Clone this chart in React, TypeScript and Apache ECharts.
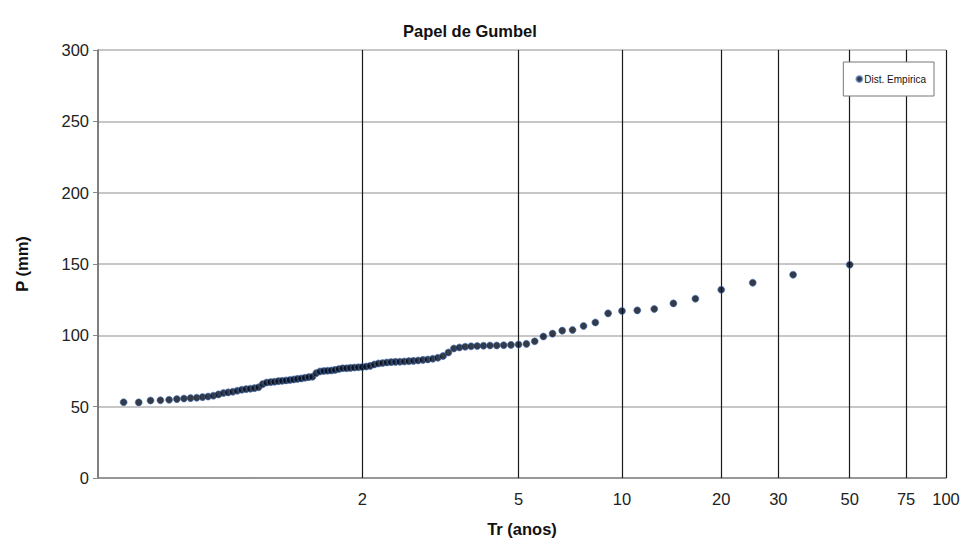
import React, { useEffect, useRef } from "react";
import * as echarts from "echarts";

// Return periods marked on the Gumbel paper (vertical lines + labels)
const T_TICKS = [2, 5, 10, 20, 30, 50, 75, 100];
const T_LABELS = ["2", "5", "10", "20", "30", "50", "75", "100"];

// Sorted annual maximum precipitation (mm), rank k = 2..98, plotting position F = k/100
const RANK_START = 2;
const RANK_DENOM = 100;
const P_VALUES = [
  53.1, 53.0, 54.3, 54.5, 54.8, 55.3, 55.7, 56.0, 56.3, 56.7,
  57.1, 57.7, 58.6, 59.6, 60.0, 60.5, 61.2, 61.9, 62.3, 62.6,
  63.0, 63.6, 65.8, 66.9, 67.2, 67.5, 67.9, 68.1, 68.4, 68.7,
  69.1, 69.5, 69.8, 70.3, 70.7, 71.0, 73.5, 74.7, 75.0, 75.2,
  75.4, 75.8, 76.4, 76.9, 76.9, 77.2, 77.4, 77.6, 77.8, 78.1,
  78.6, 79.6, 80.3, 80.6, 81.0, 81.2, 81.4, 81.5, 81.7, 81.9,
  82.1, 82.4, 82.8, 83.1, 83.6, 84.3, 85.5, 88.0, 90.8, 91.5,
  92.0, 92.3, 92.5, 92.7, 92.9, 92.9, 93.1, 93.3, 93.6, 94.0,
  95.8, 99.2, 101.2, 103.3, 103.8, 106.6, 109.0, 115.4, 117.1, 117.5,
  118.5, 122.4, 125.7, 132.0, 136.9, 142.5, 149.5,
];

const Y_MIN = 0;
const Y_MAX = 300;
const Y_STEP = 50;

// Gumbel reduced variate
const reduced = (F: number) => -Math.log(-Math.log(F));
const xOfT = (T: number) => reduced(1 - 1 / T);

export default function App() {
  const ref = useRef<HTMLDivElement>(null);

  useEffect(() => {
    if (!ref.current) return;
    const chart = echarts.init(ref.current, undefined, { renderer: "svg" });

    const points = P_VALUES.map((p, i) => [
      reduced((i + RANK_START) / RANK_DENOM),
      p,
    ]);
    const tickXs = T_TICKS.map(xOfT);

    const font = "'Liberation Sans', Arial, sans-serif";

    chart.setOption({
      animation: false,
      backgroundColor: "#ffffff",
      title: {
        text: "Papel de Gumbel",
        left: 398,
        top: 17,
        textStyle: { fontFamily: font, fontSize: 16.5, fontWeight: "bold", color: "#111" },
      },
      legend: {
        right: 31,
        top: 62,
        orient: "vertical",
        backgroundColor: "#ffffff",
        borderColor: "#777",
        borderWidth: 1,
        borderRadius: 0,
        padding: [12, 8, 12, 12],
        itemWidth: 6,
        itemHeight: 6,
        itemGap: 4,
        textStyle: { fontFamily: font, fontSize: 10, color: "#111", padding: [0, 0, 0, -3] },
        data: [{ name: "Dist. Empirica", icon: "circle" }],
      },
      grid: { left: 98, right: 19, top: 50, bottom: 65, containLabel: false },
      xAxis: {
        type: "value",
        min: -1.55,
        max: xOfT(100),
        name: "Tr (anos)",
        nameLocation: "middle",
        nameGap: 42,
        nameTextStyle: { fontFamily: font, fontSize: 16.5, fontWeight: "bold", color: "#111" },
        axisLine: { show: true, onZero: false, lineStyle: { color: "#888", width: 1.5 } },
        axisTick: { show: false },
        splitLine: { show: false },
        axisLabel: {
          customValues: tickXs,
          margin: 12,
          fontFamily: font,
          fontSize: 16.5,
          color: "#222",
          formatter: (v: number) => {
            const idx = tickXs.findIndex((t) => Math.abs(t - v) < 1e-6);
            return idx >= 0 ? T_LABELS[idx] : "";
          },
        },
      },
      yAxis: {
        type: "value",
        min: Y_MIN,
        max: Y_MAX,
        interval: Y_STEP,
        name: "P (mm)",
        nameLocation: "middle",
        nameGap: 68,
        nameTextStyle: { fontFamily: font, fontSize: 16.5, fontWeight: "bold", color: "#111" },
        axisLine: { show: true, onZero: false, lineStyle: { color: "#555", width: 1.5 } },
        axisTick: { show: true, length: 5, inside: false, lineStyle: { color: "#888" } },
        axisLabel: { margin: 9, fontFamily: font, fontSize: 16.5, color: "#222" },
        splitLine: { show: true, lineStyle: { color: "#b4b4b4", width: 1.5 } },
      },
      series: [
        {
          name: "Dist. Empirica",
          type: "scatter",
          data: points,
          symbol: "circle",
          symbolSize: 7,
          itemStyle: {
            color: "#000a1c",
            borderColor: "rgba(70,115,190,0.75)",
            borderWidth: 1,
          },
          z: 5,
          markLine: {
            silent: true,
            symbol: ["none", "none"],
            label: { show: false },
            lineStyle: { color: "#1a1a1a", width: 1.2, type: "solid" },
            data: tickXs.map((x) => ({ xAxis: x })),
            z: 2,
          },
        },
      ],
    });

    return () => chart.dispose();
  }, []);

  return (
    <div
      ref={ref}
      style={{ position: "fixed", left: 0, top: 0, width: 965, height: 543 }}
    />
  );
}
